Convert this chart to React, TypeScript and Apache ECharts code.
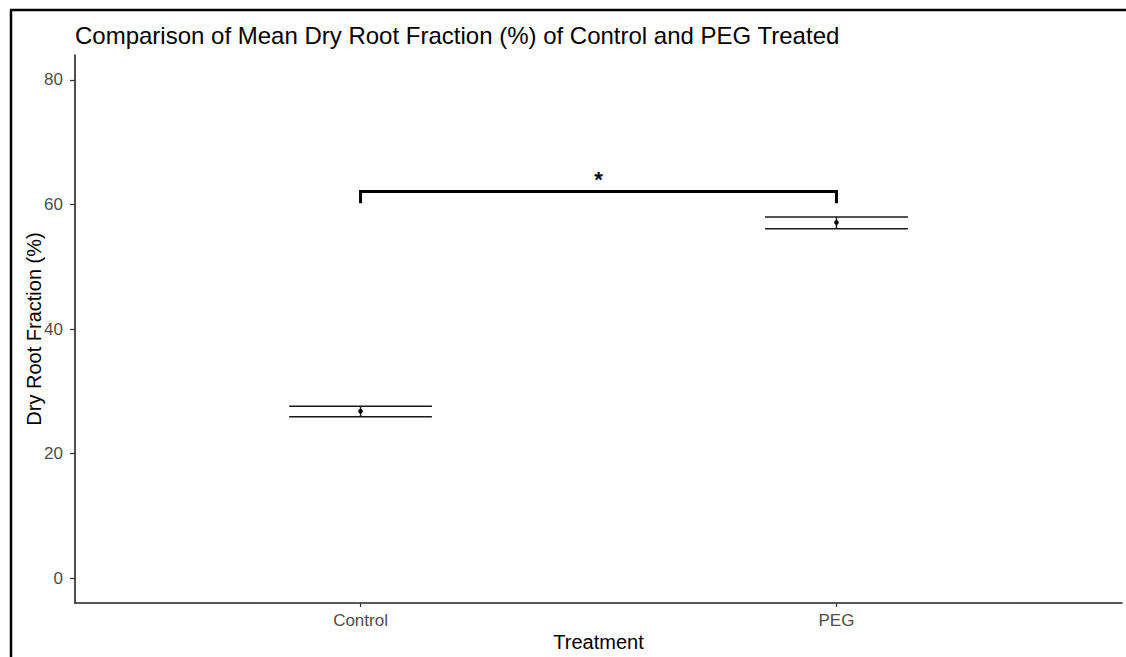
import React, { useEffect, useRef } from "react";
import * as echarts from "echarts";

const categories = ["Control", "PEG"];
const means = [26.8, 57.1];
const lowers = [25.9, 56.1];
const uppers = [27.6, 58.0];
const yTicks = [0, 20, 40, 60, 80];
const bracket = { from: 1, to: 2, low: 60.2, high: 62.1, label: "*" };

export default function App() {
  const ref = useRef<HTMLDivElement>(null);
  useEffect(() => {
    if (!ref.current) return;
    const chart = echarts.init(ref.current, null, { renderer: "svg" });
    const font = "'Liberation Sans', Arial, sans-serif";
    const errData = categories.map((c, i) => [i + 1, means[i], lowers[i], uppers[i]]);
    chart.setOption({
      animation: false,
      backgroundColor: "#ffffff",
      textStyle: { fontFamily: font },
      title: {
        text: "Comparison of Mean Dry Root Fraction (%) of Control and PEG Treated",
        left: 70,
        top: 18,
        textStyle: { fontFamily: font, fontSize: 24, fontWeight: "normal", color: "#000" },
      },
      grid: { left: 75, right: 4, top: 55, bottom: 54, containLabel: false, outerBoundsMode: "none" },
      xAxis: {
        type: "value",
        min: 0.4,
        max: 2.6,
        name: "Treatment",
        nameLocation: "middle",
        nameGap: 29,
        nameMoveOverlap: false,
        nameTextStyle: { fontFamily: font, fontSize: 20, color: "#000" },
        splitLine: { show: false },
        axisLine: { show: true, onZero: false, lineStyle: { color: "#222", width: 1.6 } },
        axisTick: { show: true, length: 4, lineStyle: { color: "#333", width: 1.2 }, customValues: [1, 2] },
        axisLabel: {
          customValues: [1, 2],
          margin: 9,
          fontFamily: font,
          fontSize: 17,
          color: "#4d4d4d",
          formatter: (v: number) => categories[Math.round(v) - 1] ?? "",
        },
      },
      yAxis: {
        type: "value",
        min: -4,
        max: 84,
        name: "Dry Root Fraction (%)",
        nameLocation: "middle",
        nameGap: 31,
        nameMoveOverlap: false,
        nameTextStyle: { fontFamily: font, fontSize: 20, color: "#000" },
        splitLine: { show: false },
        axisLine: { show: true, onZero: false, lineStyle: { color: "#222", width: 1.6 } },
        axisTick: { show: true, length: 5, lineStyle: { color: "#333", width: 1.2 }, customValues: yTicks },
        axisLabel: {
          customValues: yTicks,
          margin: 12,
          fontFamily: font,
          fontSize: 17,
          color: "#4d4d4d",
        },
      },
      graphic: [
        { type: "line", shape: { x1: 11, y1: 10, x2: 11, y2: 657 }, style: { stroke: "#000", lineWidth: 2.5 } },
        { type: "line", shape: { x1: 10, y1: 10, x2: 1126, y2: 10 }, style: { stroke: "#000", lineWidth: 2.5 } },
      ],
      series: [
        {
          type: "custom",
          data: errData,
          renderItem: (params: any, api: any) => {
            const x = api.value(0);
            const m = api.coord([x, api.value(1)]);
            const lo = api.coord([x, api.value(2)]);
            const hi = api.coord([x, api.value(3)]);
            const half = api.size([0.3, 0])[0] / 2;
            const st = { stroke: "#1a1a1a", lineWidth: 1.5 };
            return {
              type: "group",
              children: [
                { type: "line", shape: { x1: lo[0] - half, y1: lo[1], x2: lo[0] + half, y2: lo[1] }, style: st },
                { type: "line", shape: { x1: hi[0] - half, y1: hi[1], x2: hi[0] + half, y2: hi[1] }, style: st },
                { type: "line", shape: { x1: lo[0], y1: lo[1], x2: hi[0], y2: hi[1] }, style: st },
                { type: "circle", shape: { cx: m[0], cy: m[1], r: 2.3 }, style: { fill: "#000" } },
              ],
            };
          },
        },
        {
          type: "custom",
          data: [[bracket.from, bracket.to, bracket.low, bracket.high]],
          renderItem: (params: any, api: any) => {
            const a = api.coord([api.value(0), api.value(3)]);
            const b = api.coord([api.value(1), api.value(3)]);
            const aLow = api.coord([api.value(0), api.value(2)]);
            const bLow = api.coord([api.value(1), api.value(2)]);
            return {
              type: "group",
              children: [
                {
                  type: "polyline",
                  shape: { points: [aLow, a, b, bLow] },
                  style: { stroke: "#000", lineWidth: 3, fill: "none" },
                },
                {
                  type: "text",
                  style: {
                    text: bracket.label,
                    x: (a[0] + b[0]) / 2,
                    y: a[1] - 12,
                    align: "center",
                    verticalAlign: "middle",
                    fontSize: 22,
                    fontWeight: "bold",
                    fontFamily: font,
                    fill: "#000",
                  },
                },
              ],
            };
          },
        },
      ],
    });
    return () => chart.dispose();
  }, []);
  return (
    <div
      ref={ref}
      style={{ position: "absolute", left: 0, top: 0, width: 1126, height: 657 }}
    />
  );
}
